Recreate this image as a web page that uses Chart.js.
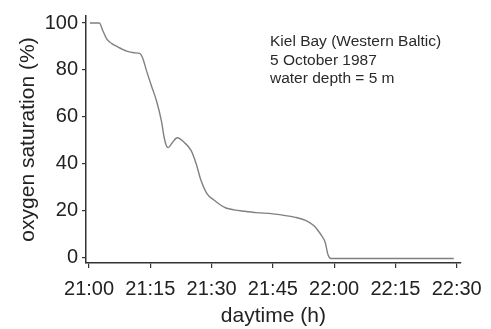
<!DOCTYPE html>
<html>
<head>
<meta charset="utf-8">
<script src="https://cdn.jsdelivr.net/npm/chart.js@4/dist/chart.umd.min.js"></script>
<style>
html,body{margin:0;padding:0;background:#fff;}
#wrap{width:491px;height:329px;}
</style>
</head>
<body>
<div id="wrap"><canvas id="c" width="491" height="329"></canvas></div>
<script>
// minutes after 21:00
const minutes = [0.2, 2.5, 3.4, 4.4, 5.5, 6.8, 9.2, 11, 12.4, 13.1, 14, 15.3, 16.5, 17.7, 18.4, 18.9, 19.4, 20.4, 21.6, 23.3, 25, 26.2, 27.4, 28.9, 30.5, 32, 33.5, 35.5, 38, 41, 45, 50.5, 53, 55, 56, 57, 57.8, 58.5, 59.2, 70, 89.3];
const saturation = [100, 100, 96.6, 93, 91.3, 90, 88, 87.3, 87, 85.2, 80, 73, 66.8, 58.3, 51, 47.7, 46.8, 49, 51, 49, 45.5, 40, 32.8, 27, 24.5, 22.5, 21, 20.2, 19.6, 19, 18.5, 17, 15.7, 13.5, 11.5, 9, 6.4, 1, -0.6, -0.6, -0.6];
const xTickValues = [0, 15, 30, 45, 60, 75, 90];
const xTickLabels = ['21:00', '21:15', '21:30', '21:45', '22:00', '22:15', '22:30'];
const yTickValues = [0, 20, 40, 60, 80, 100];
const noteLines = ['Kiel Bay (Western Baltic)', '5 October 1987', 'water depth = 5 m'];

const points = minutes.map((m, i) => ({x: m, y: saturation[i]}));
const FONT = "'Liberation Sans', Arial, Helvetica, sans-serif";
const TXT = '#222';
const AX = '#333';

const notePlugin = {
  id: 'note',
  afterDraw(chart) {
    const ctx = chart.ctx;
    ctx.save();
    ctx.fillStyle = '#2a2a2a';
    ctx.font = '15.5px ' + FONT;
    ctx.textBaseline = 'middle';
    ctx.textAlign = 'left';
    noteLines.forEach((t, i) => ctx.fillText(t, 270, 42 + i * 18.5));
    ctx.restore();
  }
};

new Chart(document.getElementById('c'), {
  type: 'line',
  data: {
    datasets: [{
      data: points,
      borderColor: '#808080',
      borderWidth: 1.4,
      pointRadius: 0,
      fill: false,
      cubicInterpolationMode: 'monotone'
    }]
  },
  options: {
    responsive: false,
    animation: false,
    layout: {padding: {left: 0, right: 27, top: 15, bottom: 0}},
    plugins: {legend: {display: false}, tooltip: {enabled: false}},
    scales: {
      x: {
        type: 'linear',
        min: -0.75,
        max: 91,
        afterBuildTicks: s => { s.ticks = xTickValues.map(v => ({value: v})); },
        afterFit: s => { s.height = 66; },
        grid: {display: true, drawOnChartArea: false, drawTicks: true, tickLength: 5, color: AX, lineWidth: 1.2},
        border: {display: true, color: AX, width: 1.5},
        ticks: {
          color: TXT, font: {family: FONT, size: 20}, padding: 9, maxRotation: 0, autoSkip: false,
          callback: v => { const i = xTickValues.indexOf(v); return i >= 0 ? xTickLabels[i] : ''; }
        },
        title: {display: true, text: 'daytime (h)', color: TXT, font: {family: FONT, size: 21}, padding: {top: 0, bottom: 0}}
      },
      y: {
        type: 'linear',
        min: -2.5,
        max: 103,
        afterBuildTicks: s => { s.ticks = yTickValues.map(v => ({value: v})); },
        afterFit: s => { s.width = 86; },
        grid: {display: true, drawOnChartArea: false, drawTicks: true, tickLength: 4, color: AX, lineWidth: 1.2},
        border: {display: true, color: AX, width: 1.5},
        ticks: {color: TXT, font: {family: FONT, size: 20}, padding: 4},
        title: {display: true, text: 'oxygen saturation (%)', color: TXT, font: {family: FONT, size: 21}, padding: {top: 16, bottom: 0}}
      }
    }
  },
  plugins: [notePlugin]
});
</script>
</body>
</html>
